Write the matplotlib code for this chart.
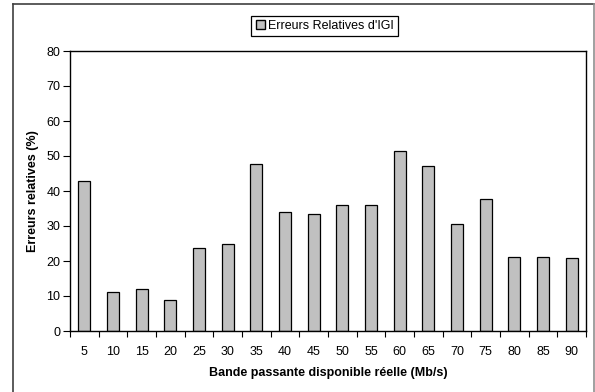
import matplotlib.pyplot as plt
import matplotlib.patches as mpatches
from matplotlib.lines import Line2D

# ----------------- Data -----------------
bandes = [5, 10, 15, 20, 25, 30, 35, 40, 45, 50, 55, 60, 65, 70, 75, 80, 85, 90]
erreurs = [42.8, 11.1, 12.0, 9.0, 23.8, 24.9, 47.7, 33.9, 33.3, 35.9,
           35.9, 51.4, 47.1, 30.7, 37.7, 21.2, 21.2, 21.0]

plt.rcParams['font.family'] = ['Liberation Sans', 'DejaVu Sans']

fig = plt.figure(figsize=(5.95, 3.92), dpi=100)

# outer chart frame (open at the bottom)
fig.add_artist(Line2D([13/595, 13/595], [0, 1 - 4/392], transform=fig.transFigure,
                      color='#404040', lw=1.2))
fig.add_artist(Line2D([13/595, 594/595], [1 - 4/392, 1 - 4/392], transform=fig.transFigure,
                      color='#404040', lw=1.2))
fig.add_artist(Line2D([594/595, 594/595], [0, 1 - 4/392], transform=fig.transFigure,
                      color='#909090', lw=1.2))

ax = fig.add_axes([70/595, 61/392, 516/595, 280/392])

x = list(range(len(bandes)))
ax.bar(x, erreurs, width=0.42, color='#c0c0c0', edgecolor='black', linewidth=0.9,
       label="Erreurs Relatives d'IGI")

ax.set_xlim(-0.5, len(bandes) - 0.5)
ax.set_ylim(0, 80)
ax.set_yticks(range(0, 81, 10))
ax.tick_params(axis='y', labelsize=9, length=5, direction='out', pad=2)

# ticks between categories, labels centred under bars
ax.set_xticks([i - 0.5 for i in range(len(bandes) + 1)])
ax.set_xticklabels([])
ax.set_xticks(x, minor=True)
ax.set_xticklabels([str(b) for b in bandes], minor=True)
ax.tick_params(axis='x', which='major', length=4, direction='out')
ax.tick_params(axis='x', which='minor', length=0, labelsize=9, pad=11)

for s in ax.spines.values():
    s.set_linewidth(1.0)
    s.set_color('black')

ax.set_ylabel('Erreurs relatives (%)', fontsize=9, fontweight='bold', labelpad=5)
ax.set_xlabel('Bande passante disponible réelle (Mb/s)', fontsize=9,
              fontweight='bold', labelpad=6)

leg = fig.legend(handles=[mpatches.Patch(facecolor='#c0c0c0', edgecolor='black',
                                         label="Erreurs Relatives d'IGI")],
                 loc='center', bbox_to_anchor=(325/595, 1 - 26/392), fontsize=9,
                 fancybox=False, framealpha=1, edgecolor='black',
                 handlelength=0.7, handleheight=0.7, handletextpad=0.3,
                 borderpad=0.35)
leg.get_frame().set_linewidth(0.9)

fig.savefig('out.png', dpi=100)
